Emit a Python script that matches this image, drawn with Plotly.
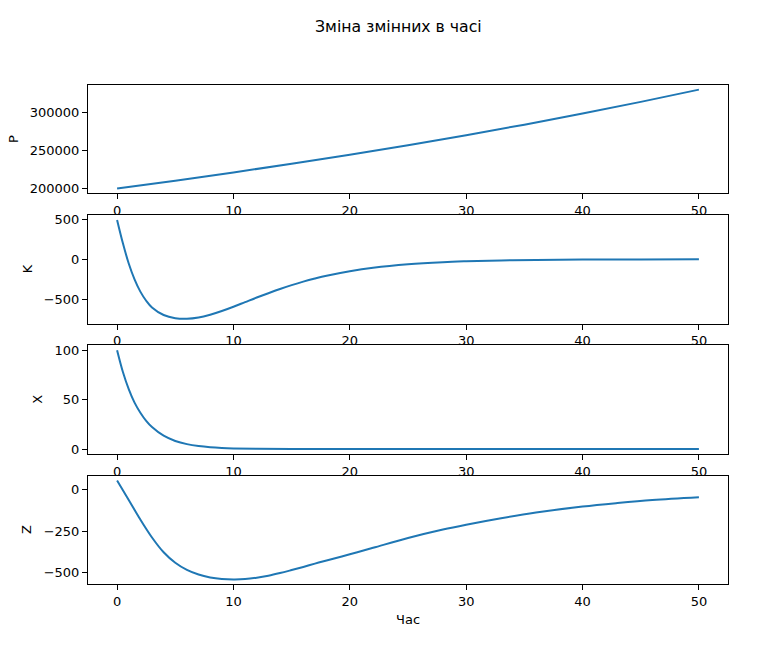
import plotly.graph_objects as go

# ---- data ----
t_P = [0, 5, 10, 15, 20, 25, 30, 35, 40, 45, 50]
P = [200000, 210250, 221100, 232400, 244300, 256800, 270000, 283800, 298400, 313700, 329800]

t_K = [0, 0.5, 1, 1.5, 2, 2.5, 3, 4, 5, 6, 7, 8, 9, 10, 11, 12, 13, 14, 15, 16, 17, 18,
       20, 22, 25, 28, 30, 33, 36, 40, 45, 50]
K = [500, 205, -50, -250, -405, -520, -605, -700, -740, -748, -732, -697, -650, -596, -538,
     -480, -425, -372, -323, -279, -240, -205, -148, -104, -60, -33, -22, -11, -5, -1, 1, 2]

t_X = [0, 0.5, 1, 1.5, 2, 2.5, 3, 4, 5, 6, 7, 8, 9, 10, 12, 15, 20, 30, 40, 50]
X = [100, 78, 60.7, 47, 36.8, 28.6, 22.3, 13.5, 8.2, 5.0, 3.0, 1.8, 1.1, 0.7, 0.25, 0.06, 0, 0, 0, 0]

t_Z = [0, 1, 2, 3, 4, 5, 6, 7, 8, 9, 10, 11, 12, 13, 14, 15, 16, 17, 18, 20, 22, 25, 28,
       30, 33, 36, 40, 43, 46, 50]
Z = [55, -62, -180, -288, -377, -440, -483, -511, -528, -537, -540, -538, -530, -518, -502,
     -484, -465, -445, -426, -389, -350, -291, -240, -211, -172, -138, -102, -81, -63, -46]

x_ticks = [0, 10, 20, 30, 40, 50]
P_ticks = [200000, 250000, 300000]
K_ticks = [-500, 0, 500]
X_ticks = [0, 50, 100]
Z_ticks = [-500, -250, 0]

labels = ["P", "K", "X", "Z"]
title_text = "Зміна змінних в часі"
xlabel_text = "Час"

W, H = 783, 656
FONT = "DejaVu Sans"
BLUE = "#1f77b4"


def mtxt(v):
    return str(v).replace("-", "\u2212")


series = [(t_P, P, P_ticks), (t_K, K, K_ticks), (t_X, X, X_ticks), (t_Z, Z, Z_ticks)]

# pixel geometry of the four axes boxes (top, bottom)
boxes = [(83.3, 192.9), (214.6, 324.2), (345.9, 455.5), (477.2, 586.8)]
left_px, right_px = 88, 728

fig = go.Figure()
layout = dict(
    width=W, height=H,
    margin=dict(l=0, r=0, t=0, b=0),
    paper_bgcolor="white", plot_bgcolor="white",
    showlegend=False,
    font=dict(family=FONT, size=13, color="black"),
)

annotations = []
for i, (tx, vals, yt) in enumerate(series):
    n = i + 1
    xa = "x" if n == 1 else f"x{n}"
    ya = "y" if n == 1 else f"y{n}"
    fig.add_trace(go.Scatter(x=tx, y=vals, mode="lines", xaxis=xa, yaxis=ya,
                             line=dict(color=BLUE, width=2, shape="spline", smoothing=1.0),
                             hoverinfo="skip"))
    vmin, vmax = min(vals), max(vals)
    pad = (vmax - vmin) * 0.05
    top, bot = boxes[i]
    axis_common = dict(showline=True, linecolor="black", linewidth=1, mirror=True,
                       ticks="outside", ticklen=5, tickwidth=1, tickcolor="black",
                       showgrid=False, zeroline=False,
                       tickfont=dict(family=FONT, size=13, color="black"))
    layout["xaxis" if n == 1 else f"xaxis{n}"] = dict(
        domain=[left_px / W, right_px / W], range=[-2.5, 52.5], anchor=ya,
        tickvals=x_ticks, ticktext=[mtxt(v) for v in x_ticks], **axis_common)
    layout["yaxis" if n == 1 else f"yaxis{n}"] = dict(
        domain=[1 - bot / H, 1 - top / H], range=[vmin - pad, vmax + pad], anchor=xa,
        tickvals=yt, ticktext=[mtxt(v) for v in yt], **axis_common)

label_x = [13, 27, 38, 27]
for i, lab in enumerate(labels):
    top, bot = boxes[i]
    annotations.append(dict(text=lab, x=label_x[i] / W, y=1 - (top + bot) / 2 / H,
                            xref="paper", yref="paper", showarrow=False, textangle=-90,
                            font=dict(family=FONT, size=13, color="black"),
                            xanchor="center", yanchor="middle"))

annotations.append(dict(text=xlabel_text, x=408 / W, y=1 - 622 / H, xref="paper", yref="paper",
                        showarrow=False, font=dict(family=FONT, size=13, color="black"),
                        xanchor="center", yanchor="middle"))
annotations.append(dict(text=title_text, x=398 / W, y=1 - 25 / H, xref="paper", yref="paper",
                        showarrow=False, font=dict(family=FONT, size=15.7, color="black"),
                        xanchor="center", yanchor="middle"))
layout["annotations"] = annotations

fig.update_layout(**layout)
fig.write_html("out.html",
               config={"displayModeBar": False, "staticPlot": True},
               post_script="document.body.style.margin='0';document.body.style.overflow='hidden';")
